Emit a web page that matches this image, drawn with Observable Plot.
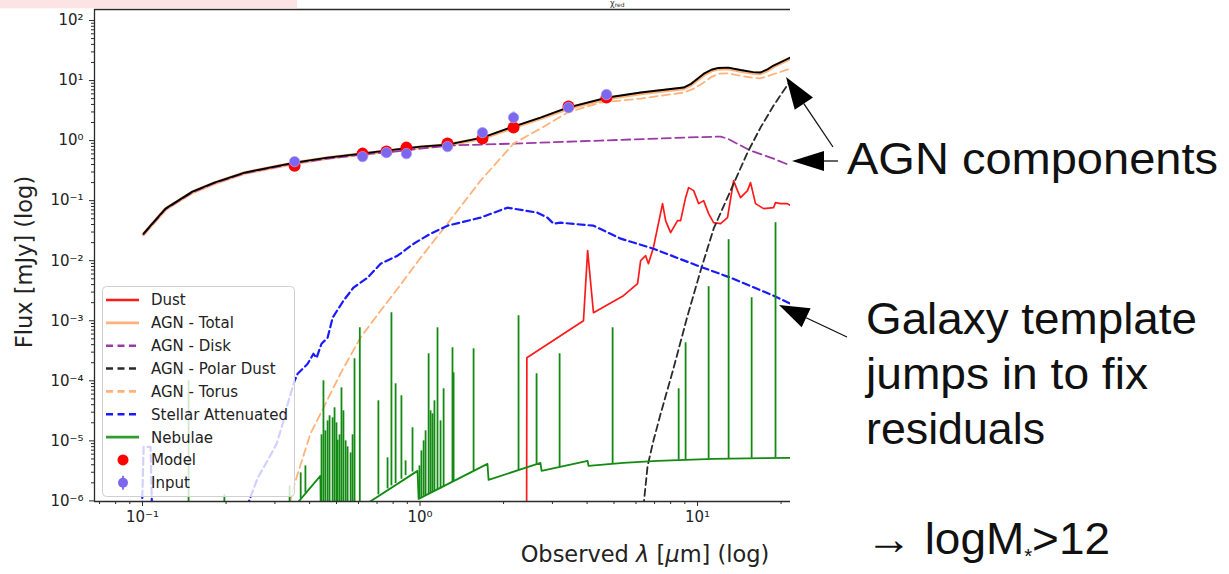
<!DOCTYPE html>
<html><head><meta charset="utf-8">
<script src="https://cdn.jsdelivr.net/npm/d3@7"></script>
<script src="https://cdn.jsdelivr.net/npm/@observablehq/plot@0.6"></script>
<style>
html,body{margin:0;padding:0;background:#fff;overflow:hidden;}
#wrap{position:relative;width:1229px;height:574px;overflow:hidden;font-family:"DejaVu Sans",sans-serif;background:#fff;}
#wrap svg{position:absolute;left:0;top:0;}
</style></head><body><div id="wrap"></div>
<script>
// ---- Data (log10 of wavelength in µm, log10 of flux in mJy) ----
const totalLogLam  = [-0.996,-0.971,-0.917,-0.820,-0.741,-0.632,-0.452,-0.333,-0.211,-0.092,0.002,0.099,0.225,0.337,0.434,0.532,0.676,0.795,0.950,0.975,1.0,1.025,1.05,1.075,1.11,1.155,1.20,1.227,1.25,1.274,1.335];
const totalLogFlux = [-1.55,-1.417,-1.133,-0.85,-0.70,-0.533,-0.367,-0.283,-0.217,-0.15,-0.10,-0.067,0.05,0.233,0.383,0.55,0.717,0.80,0.883,0.94,1.03,1.12,1.18,1.21,1.215,1.175,1.14,1.135,1.18,1.25,1.383];
const agnTotalLogFlux = [-1.56,-1.425,-1.14,-0.86,-0.71,-0.54,-0.375,-0.29,-0.225,-0.16,-0.11,-0.075,0.04,0.22,0.37,0.535,0.70,0.785,0.87,0.925,1.015,1.105,1.165,1.195,1.20,1.16,1.125,1.12,1.165,1.235,1.37];
const diskLogLam  = [-0.996,-0.971,-0.917,-0.820,-0.741,-0.632,-0.452,-0.333,-0.211,-0.092,0.002,0.099,0.337,0.650,0.950,1.083,1.108,1.191,1.274,1.335];
const diskLogFlux = [-1.56,-1.427,-1.143,-0.86,-0.71,-0.543,-0.377,-0.30,-0.233,-0.183,-0.133,-0.083,-0.05,0.0,0.05,0.067,0.033,-0.167,-0.30,-0.417];
const torusLogLam  = [-0.470,-0.456,-0.441,-0.395,-0.348,-0.287,-0.215,-0.142,-0.081,0.002,0.099,0.218,0.337,0.434,0.532,0.650,0.795,0.950,0.985,1.02,1.05,1.08,1.11,1.155,1.20,1.227,1.25,1.281,1.335];
const torusLogFlux = [-6.05,-5.783,-5.55,-4.883,-4.45,-3.883,-3.283,-2.833,-2.467,-1.95,-1.383,-0.667,-0.05,0.2,0.467,0.633,0.70,0.80,0.86,0.96,1.06,1.115,1.12,1.08,1.045,1.035,1.07,1.117,1.20];
const polarLogLam  = [0.805,0.820,0.841,0.867,0.914,0.964,1.011,1.058,1.119,1.180,1.227,1.274,1.335];
const polarLogFlux = [-6.1,-5.417,-5.0,-4.55,-3.783,-2.917,-2.167,-1.467,-0.833,-0.20,0.217,0.583,1.0];
const dustLogLam  = [0.384,0.385,0.589,0.604,0.625,0.733,0.784,0.795,0.813,0.823,0.841,0.874,0.885,0.903,0.928,0.939,0.957,0.968,0.986,1.004,1.022,1.040,1.058,1.083,1.108,1.130,1.144,1.155,1.180,1.191,1.209,1.238,1.274,1.281,1.299,1.324,1.335];
const dustLogFlux = [-6.5,-3.617,-3.0,-1.833,-2.867,-2.583,-2.383,-2.0,-1.917,-2.05,-1.783,-1.05,-1.333,-1.533,-1.333,-1.333,-0.95,-0.783,-0.833,-1.05,-1.0,-1.217,-1.367,-1.383,-1.283,-0.667,-0.833,-0.95,-0.833,-0.70,-1.05,-1.133,-1.117,-1.033,-1.05,-1.05,-1.083];
const stellarLogLam  = [-1.004,-0.996,-0.971,-0.964,-0.632,-0.585,-0.550,-0.517,-0.495,-0.481,-0.463,-0.452,-0.441,-0.430,-0.405,-0.384,-0.373,-0.355,-0.333,-0.315,-0.276,-0.240,-0.189,-0.142,-0.081,-0.023,0.038,0.099,0.218,0.315,0.423,0.459,0.481,0.506,0.625,0.723,0.841,1.0,1.119,1.274,1.335];
const stellarLogFlux = [-6.5,-5.10,-5.10,-6.5,-6.2,-5.617,-5.333,-5.05,-4.717,-4.45,-4.167,-4.0,-3.883,-3.833,-3.717,-3.55,-3.62,-3.383,-3.283,-2.95,-2.667,-2.45,-2.283,-2.05,-1.917,-1.717,-1.55,-1.417,-1.283,-1.117,-1.20,-1.283,-1.383,-1.367,-1.417,-1.633,-1.80,-2.083,-2.283,-2.583,-2.717];
const nebContLogLam  = [-1.173,-0.445,-0.441,-0.359,-0.357,-0.193,-0.186,-0.009,-0.005,0.243,0.247,0.434,0.438,0.604,0.607,0.733,0.856,1.058,1.335];
const nebContLogFlux = [-6.6,-6.3,-6.03,-5.583,-6.5,-6.1,-6.03,-5.5,-5.967,-5.383,-5.65,-5.367,-5.5,-5.333,-5.417,-5.367,-5.333,-5.30,-5.283];
const nebLineLogLam  = [-0.834,-0.705,-0.470,-0.430,-0.413,-0.355,-0.348,-0.341,-0.333,-0.326,-0.315,-0.308,-0.301,-0.297,-0.290,-0.283,-0.276,-0.268,-0.261,-0.250,-0.243,-0.236,-0.217,-0.150,-0.117,-0.103,-0.088,-0.067,-0.052,-0.027,-0.002,0.005,0.013,0.020,0.031,0.038,0.045,0.052,0.063,0.074,0.085,0.117,0.121,0.193,0.355,0.420,0.503,0.694,0.932,0.957,1.040,1.112,1.195,1.281];
const nebLinePeak    = [-4.0,-5.9,-5.75,-5.533,-5.417,-4.9,-4.0,-4.833,-4.667,-4.583,-4.617,-4.45,-4.7,-4.99,-4.9,-4.117,-4.5,-5.0,-5.1,-5.2,-4.9,-3.633,-3.117,-4.333,-5.283,-2.867,-4.05,-4.25,-5.333,-4.783,-5.417,-5.167,-5.0,-4.833,-3.55,-4.5,-4.55,-4.333,-3.117,-4.667,-4.133,-3.45,-3.867,-3.467,-2.917,-3.883,-3.55,-3.117,-4.133,-3.367,-2.433,-1.65,-2.617,-1.367];
const nebLineBase    = [-6.6,-6.5,-6.4,-5.97,-5.87,-6.5,-6.5,-6.5,-6.5,-6.5,-6.5,-6.5,-6.5,-6.5,-6.5,-6.5,-6.5,-6.5,-6.5,-6.5,-6.5,-6.5,-6.5,-5.9,-5.8,-5.75,-5.71,-5.64,-5.58,-5.52,-5.96,-5.94,-5.92,-5.91,-5.88,-5.87,-5.86,-5.84,-5.82,-5.80,-5.77,-5.69,-5.68,-5.50,-5.49,-5.39,-5.43,-5.38,-5.32,-5.32,-5.30,-5.30,-5.29,-5.285];
const photLogLam    = [-0.452,-0.207,-0.121,-0.049,0.099,0.225,0.337,0.535,0.672];
const inputLogFlux  = [-0.35,-0.267,-0.20,-0.217,-0.10,0.133,0.383,0.55,0.767];
const inputLogErr   = [0.02,0.02,0.02,0.02,0.02,0.03,0.09,0.02,0.02];
const modelLogFlux  = [-0.417,-0.217,-0.183,-0.117,-0.05,0.033,0.217,0.567,0.717];
const xMajorTicks = [0.1, 1, 10];
const xMinorTicks = [0.07,0.08,0.09,0.2,0.3,0.4,0.5,0.6,0.7,0.8,0.9,2,3,4,5,6,7,8,9,20];
const yMajorTicks = [1e-6,1e-5,1e-4,1e-3,1e-2,1e-1,1,10,100];
const legendLabels = ["Dust","AGN - Total","AGN - Disk","AGN - Polar Dust","AGN - Torus","Stellar Attenuated","Nebulae","Model","Input"];

// ---- Build tables ----
const rows = (lam, flux) => lam.map((l, i) => ({x: 10 ** l, y: 10 ** flux[i]}));
const total = rows(totalLogLam, totalLogFlux);
const agnTotal = rows(totalLogLam, agnTotalLogFlux);
const disk = rows(diskLogLam, diskLogFlux);
const torus = rows(torusLogLam, torusLogFlux);
const polar = rows(polarLogLam, polarLogFlux);
const dust = rows(dustLogLam, dustLogFlux);
const stellar = rows(stellarLogLam, stellarLogFlux);
const nebCont = rows(nebContLogLam, nebContLogFlux);
const nebLines = nebLineLogLam.map((l, i) => ({x: 10 ** l, y1: 10 ** nebLineBase[i], y2: 10 ** nebLinePeak[i]}));
const inputs = photLogLam.map((l, i) => ({x: 10 ** l, y: 10 ** inputLogFlux[i], lo: 10 ** (inputLogFlux[i] - inputLogErr[i]), hi: 10 ** (inputLogFlux[i] + inputLogErr[i])}));
const models = rows(photLogLam, modelLogFlux);

const yMinorTicks = d3.range(-6, 2).flatMap(e => [2,3,4,5,6,7,8,9].map(m => m * 10 ** e));
const supMap = {"-":"⁻","0":"⁰","1":"¹","2":"²","3":"³","4":"⁴","5":"⁵","6":"⁶","7":"⁷","8":"⁸","9":"⁹"};
const sup = v => "10" + String(Math.round(Math.log10(v))).split("").map(c => supMap[c]).join("");

const xDomain = [10 ** -1.173, 10 ** 1.335];
const yDomain = [10 ** -6.01, 10 ** 2.183];

const C = {dust:"#ff1a1a", agn:"#ffb27a", disk:"#9b3aa6", polar:"#2a2a2a", stellar:"#1a1aff", neb:"#138a13", model:"#ff0000", input:"#7b68ee"};

const chart = Plot.plot({
  width: 1229, height: 574,
  marginLeft: 94, marginRight: 439, marginTop: 9, marginBottom: 73,
  style: {background: "transparent", fontFamily: "DejaVu Sans", color: "#222"},
  x: {type: "log", domain: xDomain, label: null},
  y: {type: "log", domain: yDomain, label: null},
  marks: [
    Plot.line(dust, {x: "x", y: "y", stroke: C.dust, strokeWidth: 1.7, clip: true}),
    Plot.line(agnTotal, {x: "x", y: "y", stroke: C.agn, strokeWidth: 3.6, clip: true}),
    Plot.line(disk, {x: "x", y: "y", stroke: C.disk, strokeWidth: 1.8, strokeDasharray: "9,4.5", clip: true}),
    Plot.line(polar, {x: "x", y: "y", stroke: C.polar, strokeWidth: 1.8, strokeDasharray: "7,4", clip: true}),
    Plot.line(torus, {x: "x", y: "y", stroke: C.agn, strokeWidth: 1.8, strokeDasharray: "8,4.5", clip: true}),
    Plot.line(stellar, {x: "x", y: "y", stroke: C.stellar, strokeWidth: 2.2, strokeDasharray: "7,4", clip: true}),
    Plot.ruleX(nebLines, {x: "x", y1: "y1", y2: "y2", stroke: C.neb, strokeWidth: 1.8, clip: true}),
    Plot.line(nebCont, {x: "x", y: "y", stroke: C.neb, strokeWidth: 1.8, clip: true}),
    Plot.line(total, {x: "x", y: "y", stroke: "#000", strokeWidth: 1.9, clip: true}),
    Plot.dot(models, {x: "x", y: "y", r: 6, fill: C.model, stroke: "none"}),
    Plot.ruleX(inputs, {x: "x", y1: "lo", y2: "hi", stroke: C.input, strokeWidth: 2}),
    Plot.dot(inputs, {x: "x", y: "y", r: 5.2, fill: C.input, stroke: "#a99cf2", strokeWidth: 0.8}),
    // spines
    Plot.ruleX([xDomain[0]], {stroke: "#2b2b2b", strokeWidth: 1.3}),
    Plot.ruleY([yDomain[0]], {stroke: "#2b2b2b", strokeWidth: 1.3}),
    Plot.ruleY([yDomain[1]], {stroke: "#2b2b2b", strokeWidth: 1.3}),
    // axes
    Plot.axisX({ticks: xMajorTicks, tickFormat: sup, tickSize: 5, tickPadding: 5, fontSize: 15, label: null, stroke: "#2b2b2b", fill: "#222"}),
    Plot.axisX({ticks: xMinorTicks, tickFormat: () => "", tickSize: 3, label: null, stroke: "#2b2b2b"}),
    Plot.axisY({ticks: yMajorTicks, tickFormat: sup, tickSize: 5, tickPadding: 6, fontSize: 15, label: null, stroke: "#2b2b2b", fill: "#222"}),
    Plot.axisY({ticks: yMinorTicks, tickFormat: () => "", tickSize: 3, label: null, stroke: "#2b2b2b"})
  ]
});
const wrap = document.getElementById("wrap");
wrap.appendChild(chart);

// ---- Overlay: legend, axis labels, annotations ----
const legendStyles = [
  {kind:"line", color:C.dust, dash:null},
  {kind:"line", color:C.agn, dash:null},
  {kind:"line", color:C.disk, dash:"7,4.5"},
  {kind:"line", color:C.polar, dash:"7,4.5"},
  {kind:"line", color:C.agn, dash:"7,4.5"},
  {kind:"line", color:C.stellar, dash:"7,4.5"},
  {kind:"line", color:"#2e9e2e", dash:null},
  {kind:"dot", color:C.model},
  {kind:"err", color:C.input}
];
let leg = `<rect x="102.5" y="286.5" width="192" height="210" rx="4" fill="rgba(255,255,255,0.8)" stroke="#d0d0d0" stroke-width="1"/>`;
legendLabels.forEach((lab, i) => {
  const cy = 300 + 22.85 * i;
  const s = legendStyles[i];
  if (s.kind === "line") {
    leg += `<line x1="106" y1="${cy}" x2="139" y2="${cy}" stroke="${s.color}" stroke-width="2.6" ${s.dash ? `stroke-dasharray="${s.dash}"` : ""}/>`;
  } else if (s.kind === "dot") {
    leg += `<circle cx="123" cy="${cy}" r="5.5" fill="${s.color}"/>`;
  } else {
    leg += `<line x1="123" y1="${cy - 7}" x2="123" y2="${cy + 7}" stroke="${s.color}" stroke-width="1.8"/><circle cx="123" cy="${cy}" r="5" fill="${s.color}"/>`;
  }
  leg += `<text x="151" y="${cy + 5.4}" font-size="15" fill="#222">${lab}</text>`;
});

function arrow(tx, ty, fx, fy, len, hw) {
  const dx = tx - fx, dy = ty - fy, L = Math.hypot(dx, dy), ux = dx / L, uy = dy / L;
  const bx = tx - ux * len, by = ty - uy * len, px = -uy * hw, py = ux * hw;
  return `<line x1="${fx}" y1="${fy}" x2="${bx}" y2="${by}" stroke="#111" stroke-width="1.3"/>` +
         `<polygon points="${tx},${ty} ${bx + px},${by + py} ${bx - px},${by - py}" fill="#000"/>`;
}

const overlay = `
<svg width="1229" height="574" xmlns="http://www.w3.org/2000/svg" style="font-family:'DejaVu Sans',sans-serif">
  <rect x="0" y="0" width="297" height="8.3" fill="#fde4e4"/>
  <text x="610" y="6" font-size="8" fill="#333">χ<tspan font-size="6" dy="1">red</tspan></text>
  <text transform="translate(32,262) rotate(-90)" text-anchor="middle" font-size="22.5" fill="#222">Flux [mJy] (log)</text>
  <text x="645" y="562" text-anchor="middle" font-size="22.5" fill="#222">Observed <tspan font-style="italic">λ</tspan> [<tspan font-style="italic">μ</tspan>m] (log)</text>
  ${leg}
  ${arrow(786, 77, 833, 147, 32, 11)}
  ${arrow(792, 161, 838, 161, 32, 10)}
  ${arrow(779, 305, 847, 337, 30, 10.5)}
  <g font-family="'Liberation Sans', Arial, sans-serif" fill="#111" font-size="45">
    <text x="847" y="174" textLength="371" lengthAdjust="spacingAndGlyphs">AGN components</text>
    <text x="866" y="334" textLength="331" lengthAdjust="spacingAndGlyphs">Galaxy template</text>
    <text x="866" y="389" textLength="282" lengthAdjust="spacingAndGlyphs">jumps in to fix</text>
    <text x="866" y="444" textLength="179" lengthAdjust="spacingAndGlyphs">residuals</text>
    <text x="866" y="554" textLength="244" lengthAdjust="spacingAndGlyphs">→ logM<tspan font-size="20" dy="9">*</tspan><tspan dy="-9">&gt;12</tspan></text>
  </g>
</svg>`;
wrap.insertAdjacentHTML("beforeend", overlay);
</script></body></html>
